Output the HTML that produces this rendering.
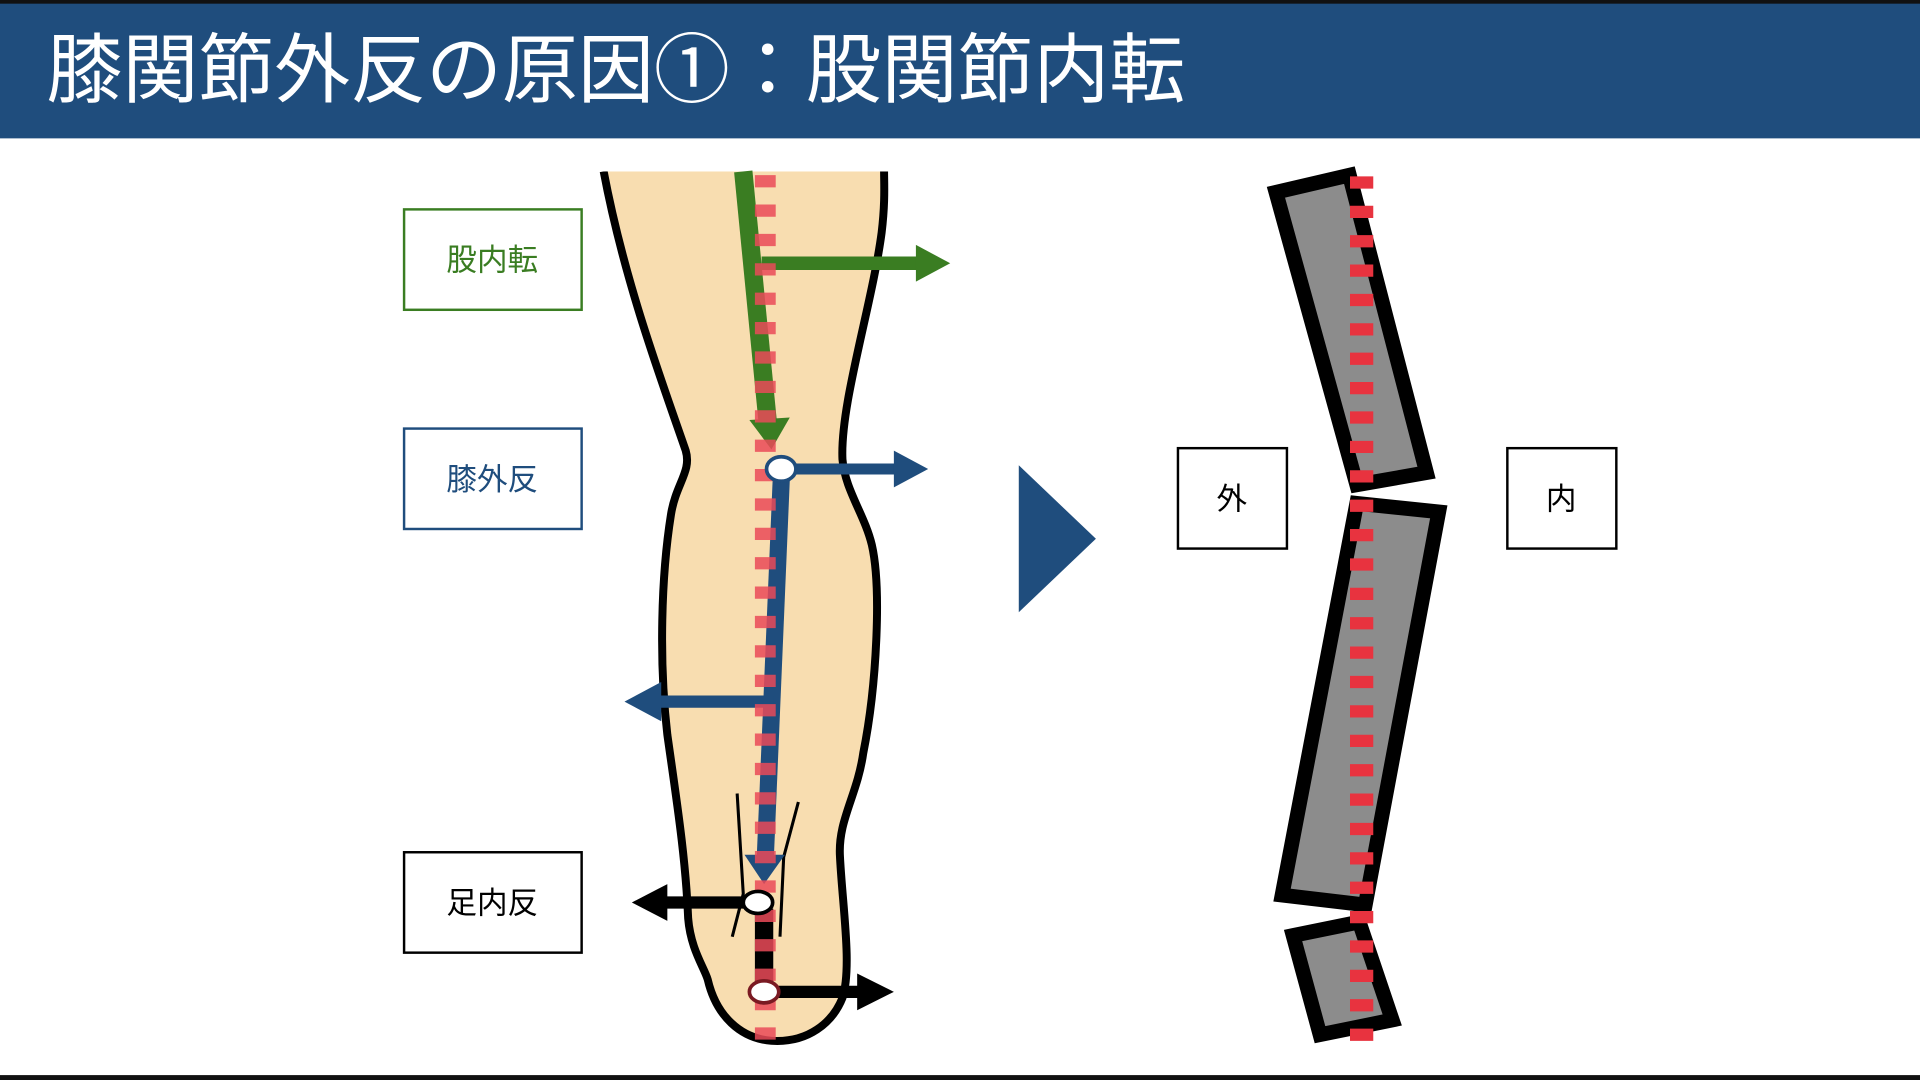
<!DOCTYPE html>
<html><head><meta charset="utf-8"><style>html,body{margin:0;padding:0;background:#fff}svg{display:block}</style></head>
<body>
<svg width="1920" height="1080" viewBox="0 0 1568 882" xmlns="http://www.w3.org/2000/svg">
<rect x="0" y="0" width="1568" height="113" fill="#1f4d7d"/>
<rect x="0" y="0" width="1568" height="3" fill="#111"/>
<rect x="0" y="878" width="1568" height="4" fill="#111"/>
<text x="38" y="79" font-family="Liberation Sans, Noto Sans CJK JP, sans-serif" font-size="62" fill="#fff" textLength="930" lengthAdjust="spacing">膝関節外反の原因①：股関節内転</text>

<g font-family="Liberation Sans, Noto Sans CJK JP, sans-serif" font-size="25" text-anchor="middle">
<rect x="330" y="171" width="145" height="82" fill="#fff" stroke="#3a7d22" stroke-width="2"/>
<text x="402" y="221" fill="#3a7d22">股内転</text>
<rect x="330" y="350" width="145" height="82" fill="#fff" stroke="#1f4d7d" stroke-width="2"/>
<text x="402" y="400" fill="#1f4d7d">膝外反</text>
<rect x="330" y="696" width="145" height="82" fill="#fff" stroke="#000" stroke-width="2"/>
<text x="402" y="746" fill="#000">足内反</text>
<rect x="962" y="366" width="89" height="82" fill="#fff" stroke="#000" stroke-width="2"/>
<text x="1006" y="416" fill="#000">外</text>
<rect x="1231" y="366" width="89" height="82" fill="#fff" stroke="#000" stroke-width="2"/>
<text x="1275" y="416" fill="#000">内</text>
</g>

<path d="M493,140 C510,230 540,310 560,368 C565,385 552,395 548,420 C540,470 538,540 545,600 C552,650 560,700 562,750 C564,775 575,790 578,800 C585,830 605,848 630,850 C660,852 680,835 688,815 C696,790 688,740 686,700 C684,670 700,650 705,615 C716,560 720,480 712,445 C706,420 690,400 688,375 C686,330 712,250 720,190 C723,165 722,150 722,140" fill="#f8ddb0" stroke="#000" stroke-width="6.5"/>
<rect x="480" y="131" width="260" height="9" fill="#fff"/>

<polyline points="602,648 607,730 598,765" fill="none" stroke="#000" stroke-width="2.5"/>
<polyline points="652,655 640,700 637,765" fill="none" stroke="#000" stroke-width="2.5"/>

<line x1="607" y1="140" x2="627" y2="345" stroke="#3a7d22" stroke-width="15"/>
<polygon points="612,343 645,341 630,367" fill="#3a7d22"/>
<line x1="622" y1="215" x2="750" y2="215" stroke="#3a7d22" stroke-width="11"/>
<polygon points="748,200 776,215 748,230" fill="#3a7d22"/>

<line x1="638" y1="392" x2="625" y2="700" stroke="#1f4d7d" stroke-width="14"/>
<polygon points="608,698 641,698 624,722" fill="#1f4d7d"/>
<line x1="646" y1="383" x2="735" y2="383" stroke="#1f4d7d" stroke-width="9"/>
<polygon points="730,368 758,383 730,398" fill="#1f4d7d"/>
<line x1="632" y1="573" x2="535" y2="573" stroke="#1f4d7d" stroke-width="10"/>
<polygon points="540,557 510,573 540,589" fill="#1f4d7d"/>

<line x1="624" y1="742" x2="624" y2="805" stroke="#000" stroke-width="15"/>
<line x1="612" y1="737" x2="540" y2="737" stroke="#000" stroke-width="10"/>
<polygon points="545,722 516,737 545,752" fill="#000"/>
<line x1="632" y1="810" x2="705" y2="810" stroke="#000" stroke-width="10"/>
<polygon points="700,795 730,810 700,825" fill="#000"/>

<line x1="625" y1="143" x2="625" y2="850" stroke="#ea4a58" stroke-opacity="0.85" stroke-width="17" stroke-dasharray="10 14"/>

<ellipse cx="638" cy="383" rx="12" ry="10" fill="#fff" stroke="#1f4d7d" stroke-width="3"/>
<ellipse cx="619" cy="737" rx="12" ry="9" fill="#fff" stroke="#000" stroke-width="3"/>
<ellipse cx="624" cy="810" rx="12" ry="9" fill="#fff" stroke="#7a1a22" stroke-width="3"/>

<polygon points="832,380 895,440 832,500" fill="#1f4d7d"/>

<g fill="#8c8c8c" stroke="#000" stroke-width="12" stroke-linejoin="miter">
<polygon points="1042,157 1102,143 1165,386 1108,396"/>
<polygon points="1108,411 1175,418 1115,739 1047,731"/>
<polygon points="1056,764 1110,753 1137,833 1078,845"/>
</g>
<line x1="1112" y1="144" x2="1112" y2="850" stroke="#e8333f" stroke-width="19" stroke-dasharray="10 14"/>
</svg>
</body></html>
